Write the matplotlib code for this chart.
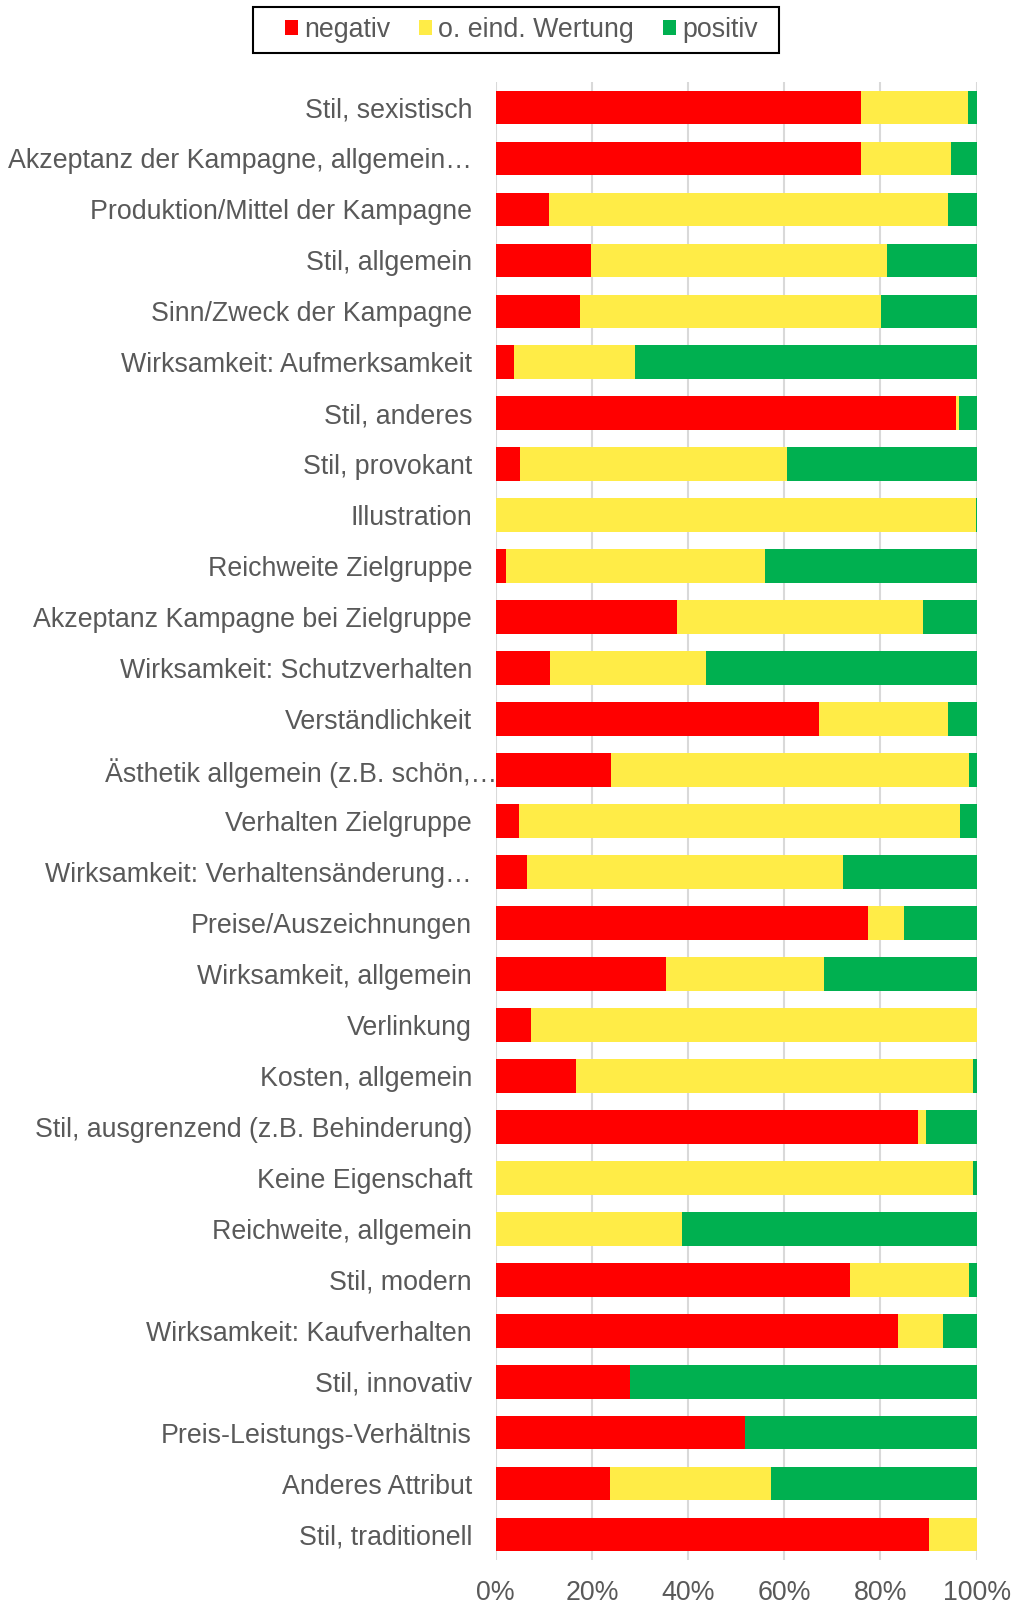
import numpy as np
import matplotlib
matplotlib.use("Agg")
import matplotlib.pyplot as plt
from matplotlib.patches import Rectangle
from matplotlib.transforms import ScaledTranslation

plt.rcParams['font.family'] = ['Liberation Sans', 'DejaVu Sans']

categories = [
    "Stil, sexistisch",
    "Akzeptanz der Kampagne, allgemein…",
    "Produktion/Mittel der Kampagne",
    "Stil, allgemein",
    "Sinn/Zweck der Kampagne",
    "Wirksamkeit: Aufmerksamkeit",
    "Stil, anderes",
    "Stil, provokant",
    "Illustration",
    "Reichweite Zielgruppe",
    "Akzeptanz Kampagne bei Zielgruppe",
    "Wirksamkeit: Schutzverhalten",
    "Verständlichkeit",
    "Ästhetik allgemein (z.B. schön,…",
    "Verhalten Zielgruppe",
    "Wirksamkeit: Verhaltensänderung…",
    "Preise/Auszeichnungen",
    "Wirksamkeit, allgemein",
    "Verlinkung",
    "Kosten, allgemein",
    "Stil, ausgrenzend (z.B. Behinderung)",
    "Keine Eigenschaft",
    "Reichweite, allgemein",
    "Stil, modern",
    "Wirksamkeit: Kaufverhalten",
    "Stil, innovativ",
    "Preis-Leistungs-Verhältnis",
    "Anderes Attribut",
    "Stil, traditionell",
]

negativ = [75.9, 75.9, 11.0, 19.9, 17.5, 3.8, 95.7, 5.1, 0.0, 2.2,
           37.6, 11.3, 67.3, 23.9, 4.9, 6.6, 77.4, 35.4, 7.3, 16.6,
           87.7, 0.0, 0.0, 73.7, 83.6, 27.9, 51.8, 23.8, 90.1]
neutral = [22.2, 18.8, 83.0, 61.5, 62.6, 25.2, 0.6, 55.5, 99.9, 53.7,
           51.3, 32.4, 26.8, 74.4, 91.7, 65.7, 7.4, 32.9, 92.7, 82.6,
           1.8, 99.2, 38.8, 24.6, 9.4, 0.0, 0.0, 33.4, 9.9]
positiv = [1.9, 5.3, 6.0, 18.6, 19.9, 71.0, 3.7, 39.4, 0.1, 44.1,
           11.1, 56.3, 5.9, 1.7, 3.4, 27.7, 15.2, 31.7, 0.0, 0.8,
           10.5, 0.8, 61.2, 1.7, 7.0, 72.1, 48.2, 42.8, 0.0]

series = ["negativ", "o. eind. Wertung", "positiv"]
colors = ["#FF0000", "#FFEC47", "#00B050"]
grey = "#595959"
fs = 19.3

fig = plt.figure(figsize=(10.16, 16.07), dpi=100)
ax = fig.add_axes([0.4879, 0.0292, 0.4734, 0.9198])

y = np.arange(len(categories))
left = np.zeros(len(categories))
for name, vals, c in zip(series, [negativ, neutral, positiv], colors):
    vals = np.array(vals)
    ax.barh(y, vals, left=left, height=0.66, color=c, label=name, zorder=3)
    left += vals

ax.set_ylim(len(categories) - 0.5, -0.5)
ax.set_xlim(0, 100)
ax.set_xticks(np.arange(0, 101, 20))
ax.set_xticklabels([f"{v}%" for v in range(0, 101, 20)])
ax.set_yticks(y)
ax.set_yticklabels(categories)
ax.xaxis.grid(True, color="#D9D9D9", linewidth=1.5, zorder=0)
for s in ax.spines.values():
    s.set_visible(False)
ax.tick_params(axis="y", length=0, pad=17, labelsize=fs, labelcolor=grey)
ax.tick_params(axis="x", length=0, pad=14, labelsize=fs, labelcolor=grey)

# the Ästhetik label overflows into the plot in the original
lab = ax.get_yticklabels()[13]
lab.set_transform(lab.get_transform() + ScaledTranslation(0.25, 0, fig.dpi_scale_trans))

leg = fig.legend(loc="center", bbox_to_anchor=(0.513, 0.9815), ncol=3,
                 fontsize=fs, frameon=False,
                 handlelength=0.5, handleheight=0.5, handletextpad=0.22,
                 columnspacing=1.07, borderpad=0, borderaxespad=0)
for t in leg.get_texts():
    t.set_color(grey)

# legend box like the original (wider padding on the left)
fig.patches.append(Rectangle((0.249, 0.9668), 0.518, 0.0287, transform=fig.transFigure,
                             fill=False, edgecolor="black", linewidth=1.5))

plt.savefig("out.png", dpi=100)
